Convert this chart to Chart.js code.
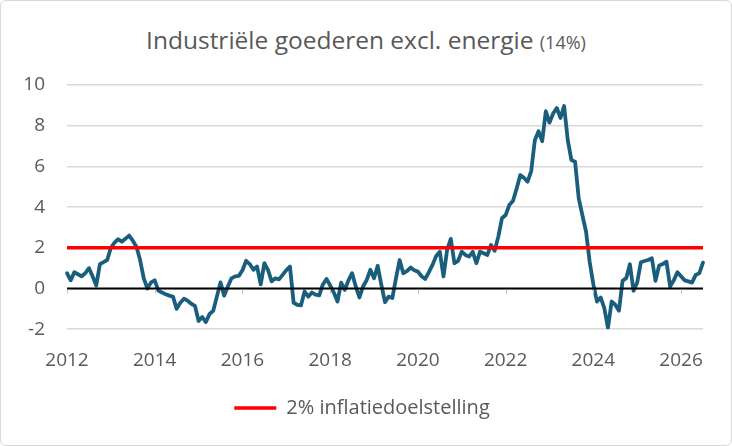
<!DOCTYPE html>
<html>
<head>
<meta charset="utf-8">
<script src="https://cdn.jsdelivr.net/npm/chart.js@4.4.1/dist/chart.umd.min.js"></script>
<style>
  html, body { margin: 0; padding: 0; background: #fff; }
  #wrap {
    position: relative;
    width: 730px;
    height: 444px;
    border: 1px solid #d9d9d9;
    border-radius: 6px;
    overflow: hidden;
    font-family: "Open Sans", sans-serif;
  }
  #title {
    position: absolute;
    top: 22px;
    left: 0;
    width: 100%;
    text-align: center;
    color: #595959;
    font-size: 24.5px;
    line-height: 34px;
  }
  #title small { font-size: 18px; }
  canvas { position: absolute; top: 0; left: 0; }
</style>
</head>
<body>
<div id="wrap">
  <div id="title">Industriële goederen excl. energie <small>(14%)</small></div>
  <canvas id="chart" width="730" height="444"></canvas>
</div>
<script>
// Data: monthly y/y change (%), Jan 2012 - Jul 2026
const startYear = 2012;
const values = [
  0.75, 0.4, 0.8, 0.7, 0.6, 0.75, 1.0, 0.6, 0.15, 1.2, 1.3, 1.4,      // 2012
  2.0, 2.25, 2.42, 2.3, 2.45, 2.6, 2.35, 2.05, 1.4, 0.5, 0.0, 0.3,    // 2013
  0.4, -0.1, -0.2, -0.28, -0.35, -0.4, -1.0, -0.7, -0.5, -0.6, -0.75, -0.85, // 2014
  -1.6, -1.4, -1.65, -1.25, -1.1, -0.4, 0.3, -0.35, 0.1, 0.5, 0.6, 0.62,     // 2015
  0.9, 1.36, 1.2, 0.92, 1.08, 0.2, 1.25, 0.9, 0.35, 0.5, 0.45, 0.67,  // 2016
  0.9, 1.08, -0.7, -0.8, -0.83, -0.15, -0.4, -0.2, -0.3, -0.34, 0.2, 0.47,   // 2017
  0.15, -0.2, -0.64, 0.29, -0.07, 0.4, 0.75, 0.1, -0.44, 0.1, 0.42, 0.92,    // 2018
  0.5, 1.11, 0.18, -0.67, -0.4, -0.47, 0.5, 1.4, 0.75, 0.85, 1.03, 0.9,      // 2019
  0.83, 0.6, 0.47, 0.8, 1.16, 1.6, 1.81, 0.59, 1.9, 2.44, 1.24, 1.36, // 2020
  1.81, 1.65, 1.57, 1.8, 1.24, 1.81, 1.73, 1.65, 2.14, 1.85, 2.55, 3.45,     // 2021
  3.61, 4.1, 4.3, 4.9, 5.57, 5.44, 5.25, 5.77, 7.29, 7.73, 7.24, 8.71, // 2022
  8.15, 8.6, 8.87, 8.38, 8.97, 7.29, 6.31, 6.23, 4.43, 3.6, 2.8, 1.3, // 2023
  0.2, -0.64, -0.44, -0.96, -1.94, -0.64, -0.8, -1.09, 0.38, 0.51, 1.19, -0.11, // 2024
  0.3, 1.29, 1.35, 1.4, 1.49, 0.38, 1.13, 1.2, 1.32, 0.1, 0.4, 0.8,   // 2025
  0.6, 0.4, 0.35, 0.29, 0.67, 0.75, 1.27                              // 2026
];
const target = 2;
const yTicks = [-2, 0, 2, 4, 6, 8, 10];

// month labels "YYYY-MM"
const labels = values.map((v, i) => {
  const y = startYear + Math.floor(i / 12);
  const m = (i % 12) + 1;
  return y + '-' + String(m).padStart(2, '0');
});

const textColor = '#595959';
const gridColor = '#d9d9d9';

// zero axis line with tick marks every two years, drawn over the line
const zeroAxis = {
  id: 'zeroAxis',
  afterDatasetsDraw(chart) {
    const { ctx, chartArea, scales } = chart;
    const y0 = scales.y.getPixelForValue(0);
    ctx.save();
    ctx.strokeStyle = '#000';
    ctx.lineWidth = 2;
    ctx.beginPath();
    ctx.moveTo(chartArea.left, y0);
    ctx.lineTo(chartArea.right, y0);
    ctx.stroke();
    ctx.strokeStyle = '#bfbfbf';
    ctx.lineWidth = 1;
    labels.forEach((l, i) => {
      const yr = parseInt(l.slice(0, 4));
      if (l.endsWith('-01') && yr % 2 === 0) {
        const x = Math.round(scales.x.getPixelForValue(i)) + 0.5;
        ctx.beginPath();
        ctx.moveTo(x, y0 + 1);
        ctx.lineTo(x, y0 + 5);
        ctx.stroke();
      }
    });
    ctx.restore();
  }
};

const ctx = document.getElementById('chart').getContext('2d');
new Chart(ctx, {
  type: 'line',
  data: {
    labels: labels,
    datasets: [
      {
        label: '2% inflatiedoelstelling',
        data: [{ x: labels[0], y: target }, { x: labels[labels.length - 1], y: target }],
        borderColor: '#ff0000',
        backgroundColor: '#ff0000',
        borderWidth: 3.5,
        pointRadius: 0,
        order: 0
      },
      {
        label: 'Industriële goederen',
        data: values,
        borderColor: '#1a5e7e',
        borderWidth: 3.8,
        borderJoinStyle: 'round',
        borderCapStyle: 'round',
        pointRadius: 0,
        tension: 0,
        order: 1
      }
    ]
  },
  options: {
    responsive: false,
    animation: false,
    layout: { padding: { top: 84, left: 20, right: 28, bottom: 17 } },
    plugins: {
      title: { display: false },
      tooltip: { enabled: false },
      legend: {
        position: 'bottom',
        labels: {
          filter: (item) => item.datasetIndex === 0,
          usePointStyle: true,
          pointStyle: 'line',
          pointStyleWidth: 42,
          color: textColor,
          font: { family: 'Open Sans', size: 20 },
          padding: 6
        }
      }
    },
    scales: {
      x: {
        type: 'category',
        offset: false,
        grid: { display: false, drawTicks: false },
        border: { display: false },
        ticks: {
          autoSkip: false,
          maxRotation: 0,
          padding: 20,
          color: textColor,
          font: { family: 'Open Sans', size: 19 },
          callback: function (val) {
            const l = this.getLabelForValue(val);
            const yr = parseInt(l.slice(0, 4));
            return (l.endsWith('-01') && yr % 2 === 0) ? String(yr) : '';
          }
        }
      },
      y: {
        min: -2,
        max: 10,
        afterFit: (s) => { s.width = 46; },
        afterBuildTicks: (s) => { s.ticks = yTicks.map(v => ({ value: v })); },
        grid: { color: gridColor, lineWidth: 1.5, drawTicks: false },
        border: { display: false },
        ticks: {
          padding: 22,
          color: textColor,
          font: { family: 'Open Sans', size: 19 }
        }
      }
    }
  },
  plugins: [zeroAxis]
});
</script>
</body>
</html>
